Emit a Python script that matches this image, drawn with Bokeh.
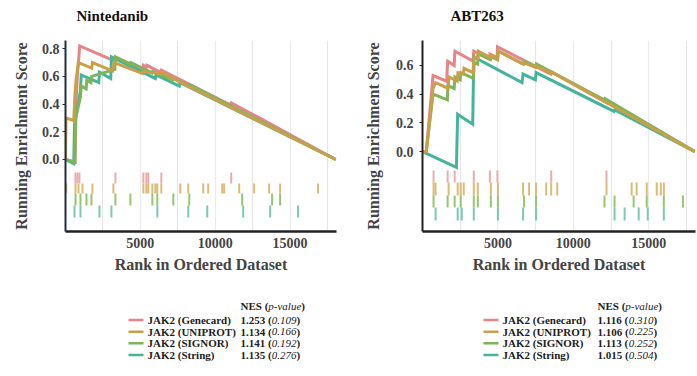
from bokeh.plotting import figure
from bokeh.models import Range1d, FixedTicker, PrintfTickFormatter
from bokeh.layouts import column, row
from bokeh.embed import file_html
from bokeh.resources import INLINE
from bokeh.core.properties import value

# ---------------- data ----------------
gene_sets = ["JAK2 (Genecard)", "JAK2 (UNIPROT)", "JAK2 (SIGNOR)", "JAK2 (String)"]
line_colors = ["#E58587", "#C9A04A", "#7EB55A", "#45B49A"]
rug_colors = ["#EBA3A3", "#D6B46A", "#8CC063", "#6CC3AA"]

x_ticks = [5000, 10000, 15000]
x_minor = [2500, 7500, 12500, 17500]
n_genes = 18100

# Nintedanib
nin_title = "Nintedanib"
nin_nes = ["1.253", "1.134", "1.141", "1.135"]
nin_pval = ["0.109", "0.166", "0.192", "0.276"]
nin_yticks = [0.0, 0.2, 0.4, 0.6, 0.8]

nin_genecard_x = [0, 640, 700, 800, 950, 3300, 3340, 5150, 5200, 5400, 5430, 6350, 6400, 11000, 11070, 18050]
nin_genecard_y = [0, -0.02, 0.40, 0.62, 0.82, 0.71, 0.74, 0.645, 0.68, 0.665, 0.68, 0.63, 0.645, 0.395, 0.41, 0.0]
nin_uniprot_x = [0, 30, 550, 620, 700, 870, 1750, 1800, 3150, 3250, 5150, 5200, 6400, 6450, 7700, 18050]
nin_uniprot_y = [0, 0.30, 0.28, 0.45, 0.57, 0.70, 0.66, 0.70, 0.64, 0.70, 0.62, 0.635, 0.62, 0.627, 0.556, 0.0]
nin_signor_x = [0, 620, 680, 1000, 1050, 1380, 1420, 1700, 1750, 3300, 3340, 4300, 4350, 5780, 5820, 7180, 7220, 8250, 8280, 18050]
nin_signor_y = [0, -0.02, 0.30, 0.45, 0.53, 0.51, 0.57, 0.555, 0.60, 0.65, 0.74, 0.69, 0.70, 0.625, 0.635, 0.575, 0.585, 0.53, 0.54, 0.0]
nin_string_x = [0, 550, 600, 1000, 1050, 2220, 2270, 3020, 3070, 6000, 6050, 7600, 7650, 18050]
nin_string_y = [0.0, -0.03, 0.25, 0.50, 0.61, 0.555, 0.63, 0.585, 0.74, 0.585, 0.61, 0.53, 0.555, 0.0]

nin_genecard_hits = [667, 800, 933, 3333, 5200, 5400, 5530, 6400, 11067]
nin_uniprot_hits = [50, 667, 867, 1133, 1800, 3200, 5200, 5400, 5530, 5800, 6000, 6130, 6400, 7667, 8200,
                    9200, 9533, 10467, 10600, 11600, 12600, 13600, 14333, 16867]
nin_signor_hits = [667, 1000, 1400, 1733, 3333, 4333, 5800, 6133, 7200, 8267, 11800, 13800, 14333]
nin_string_hits = [600, 1000, 2267, 3067, 6133, 8200, 9467, 11867, 13667, 15533]

# ABT263
abt_title = "ABT263"
abt_nes = ["1.116", "1.106", "1.113", "1.015"]
abt_pval = ["0.310", "0.225", "0.252", "0.504"]
abt_yticks = [0.0, 0.2, 0.4, 0.6]

abt_genecard_x = [0, 250, 700, 1600, 1670, 2100, 2150, 3350, 3400, 4450, 4470, 4950, 4970, 8500, 8550, 12200, 12250, 18050]
abt_genecard_y = [0, 0.0, 0.53, 0.49, 0.63, 0.60, 0.70, 0.63, 0.70, 0.645, 0.68, 0.655, 0.73, 0.54, 0.555, 0.34, 0.35, 0.0]
abt_uniprot_x = [0, 250, 700, 870, 1700, 1750, 2300, 2350, 2700, 2750, 3350, 3420, 3650, 3700, 4500, 4550, 4980, 5020,
                 6650, 6700, 7520, 7560, 8530, 8560, 18050]
abt_uniprot_y = [0, 0.0, 0.44, 0.48, 0.44, 0.52, 0.49, 0.55, 0.54, 0.58, 0.55, 0.66, 0.65, 0.70, 0.655, 0.67, 0.645, 0.70,
                 0.61, 0.62, 0.585, 0.595, 0.545, 0.555, 0.0]
abt_signor_x = [0, 250, 700, 1650, 1680, 2100, 2150, 2500, 2550, 3380, 3420, 3650, 3700, 4500, 4550, 4980, 5020,
                6700, 6750, 7500, 7550, 12050, 12100, 18050]
abt_signor_y = [0, 0.0, 0.40, 0.36, 0.46, 0.44, 0.52, 0.50, 0.55, 0.51, 0.62, 0.61, 0.68, 0.64, 0.66, 0.64, 0.70,
                0.61, 0.63, 0.59, 0.61, 0.36, 0.37, 0.0]
abt_string_x = [0, 2250, 2330, 3330, 3400, 6600, 6667, 7480, 7533, 12700, 12750, 18050]
abt_string_y = [0, -0.11, 0.26, 0.19, 0.66, 0.48, 0.54, 0.50, 0.55, 0.28, 0.29, 0.0]

abt_genecard_hits = [733, 1667, 2133, 3400, 4467, 4967, 8533, 12200]
abt_uniprot_hits = [733, 867, 1733, 2333, 2533, 2733, 3400, 3667, 4533, 5000, 6667, 7067, 7533, 8200, 8533,
                    8933, 12200, 13867, 14200, 14867, 15533, 15800, 16000]
abt_signor_hits = [733, 1667, 2133, 2533, 3400, 3667, 4533, 5000, 6733, 7533, 12067, 12733, 14000, 14867, 16000, 17267]
abt_string_hits = [867, 2333, 2600, 3400, 5000, 6667, 7533, 12733, 13400, 14333, 14933, 16000]

# ---------------- styling ----------------
SERIF = "Liberation Serif"
TITLE_H = 26
TOP_H = 264
FRAME_TOP = 14
FRAME_H = 191
LEG_H = 84
DRAW_ORDER = [0, 3, 2, 1]


def blank_fig(width, height):
    q = figure(width=width, height=height, x_range=Range1d(0, width), y_range=Range1d(height, 0),
               output_backend="svg", toolbar_location=None, min_border=0,
               x_axis_type=None, y_axis_type=None)
    q.outline_line_color = None
    q.grid.visible = False
    return q


def make_title(width, x, text):
    q = blank_fig(width, TITLE_H)
    q.text(x=[x], y=[15.5], text=[text], text_font=value(SERIF), text_font_style="bold",
           text_font_size="15px", text_baseline="middle", text_align="left", text_color="#111111")
    return q


def make_panel(curves_x, curves_y, hits, y_lo, y_hi, yticks, rug_rows, width,
               border_left, frame_w, tick_standoff, label_standoff, yaxis_color):
    p = figure(width=width, height=TOP_H, x_range=Range1d(0, n_genes), y_range=Range1d(y_lo, y_hi),
               output_backend="svg", toolbar_location=None,
               min_border_left=border_left, min_border_right=width - border_left - frame_w,
               min_border_top=FRAME_TOP, min_border_bottom=TOP_H - FRAME_TOP - FRAME_H)
    p.outline_line_color = None
    p.background_fill_color = "white"
    p.border_fill_color = "white"

    # grids
    p.ygrid.grid_line_color = None
    p.xgrid.ticker = FixedTicker(ticks=x_ticks, minor_ticks=x_minor)
    p.xgrid.grid_line_color = "#ebebeb"
    p.xgrid.grid_line_width = 1.2
    p.xgrid.minor_grid_line_color = "#e6e6e6"
    p.xgrid.minor_grid_line_width = 1.2

    # x axis
    xa = p.xaxis[0]
    xa.ticker = FixedTicker(ticks=x_ticks, minor_ticks=x_minor)
    xa.axis_label = "Rank in Ordered Dataset"
    xa.axis_label_text_font = SERIF
    xa.axis_label_text_font_style = "bold"
    xa.axis_label_text_font_size = "16px"
    xa.axis_label_standoff = 5
    xa.major_label_text_font = SERIF
    xa.major_label_text_font_style = "bold"
    xa.major_label_text_font_size = "14px"
    xa.major_label_standoff = 2
    xa.major_tick_out = 0
    xa.major_tick_in = 0
    xa.minor_tick_line_color = None
    xa.axis_line_width = 2.5
    xa.axis_line_color = "#222222"

    # y axis
    ya = p.yaxis[0]
    ya.ticker = FixedTicker(ticks=yticks)
    ya.formatter = PrintfTickFormatter(format="%.1f")
    ya.axis_label = "Running Enrichment Score"
    ya.axis_label_text_font = SERIF
    ya.axis_label_text_font_style = "bold"
    ya.axis_label_text_font_size = "16px"
    ya.axis_label_standoff = label_standoff
    ya.major_label_text_font = SERIF
    ya.major_label_text_font_style = "bold"
    ya.major_label_text_font_size = "14px"
    ya.major_label_standoff = tick_standoff
    ya.major_tick_out = 3
    ya.major_tick_in = 0
    ya.minor_tick_line_color = None
    ya.axis_line_width = 2
    ya.axis_line_color = yaxis_color
    ya.major_tick_line_color = yaxis_color

    # rug of hits
    for i in range(4):
        top, bot = rug_rows[i]
        p.segment(x0=hits[i], y0=[top] * len(hits[i]), x1=hits[i], y1=[bot] * len(hits[i]),
                  line_color=rug_colors[i], line_width=2, line_alpha=0.9)

    # running enrichment score curves
    for i in DRAW_ORDER:
        p.line(curves_x[i], curves_y[i], line_color=line_colors[i], line_width=3,
               line_join="miter")
    return p


# Times-like advance widths (em) for positioning mixed-style text pieces
ADV = {"0": .5, "1": .5, "2": .5, "3": .5, "4": .5, "5": .5, "6": .5, "7": .5, "8": .5, "9": .5,
       ".": .25, " ": .25, "(": .333, ")": .333, "N": .722, "E": .667, "S": .556,
       "p": .5, "-": .333, "v": .444, "a": .5, "l": .278, "u": .5, "e": .444}
LEG_FS = 11


def tw(s):
    return sum(ADV.get(c, .5) for c in s) * LEG_FS


def make_legend(width, sw0, sw1, lab_x, num_x, nes, pval):
    q = blank_fig(width, LEG_H)
    fs = f"{LEG_FS}px"
    rows_y = [29.5, 41.2, 52.8, 64.5]
    head_y = 15
    common = dict(text_font=value(SERIF), text_font_size=fs, text_baseline="middle",
                  text_align="left", text_color="#222222")
    # header "NES (p-value)"
    q.text(x=[num_x], y=[head_y], text=["NES ("], text_font_style="bold", **common)
    q.text(x=[num_x + tw("NES (")], y=[head_y], text=["p-value"], text_font_style="italic", **common)
    q.text(x=[num_x + tw("NES (") + tw("p-value")], y=[head_y], text=[")"], text_font_style="bold", **common)
    for i in range(4):
        y = rows_y[i]
        q.segment(x0=[sw0], y0=[y], x1=[sw1], y1=[y], line_color=line_colors[i], line_width=2.5)
        q.text(x=[lab_x], y=[y], text=[gene_sets[i]], text_font_style="bold", **common)
        a = nes[i] + " ("
        q.text(x=[num_x], y=[y], text=[a], text_font_style="bold", **common)
        q.text(x=[num_x + tw(a)], y=[y], text=[pval[i]], text_font_style="italic", **common)
        q.text(x=[num_x + tw(a) + tw(pval[i])], y=[y], text=[")"], text_font_style="bold", **common)
    return q


nin_rows = [(-0.094, -0.173), (-0.173, -0.245), (-0.245, -0.332), (-0.332, -0.419)]
abt_rows = [(-0.132, -0.216), (-0.216, -0.307), (-0.307, -0.39), (-0.39, -0.481)]

tL = make_title(343, 76, nin_title)
tR = make_title(354, 107, abt_title)

pL = make_panel([nin_genecard_x, nin_uniprot_x, nin_signor_x, nin_string_x],
                [nin_genecard_y, nin_uniprot_y, nin_signor_y, nin_string_y],
                [nin_genecard_hits, nin_uniprot_hits, nin_signor_hits, nin_string_hits],
                -0.52, 0.859, nin_yticks, nin_rows, 343, 65, 271, 3, 9, "#1f2d3d")
pR = make_panel([abt_genecard_x, abt_uniprot_x, abt_signor_x, abt_string_x],
                [abt_genecard_y, abt_uniprot_y, abt_signor_y, abt_string_y],
                [abt_genecard_hits, abt_uniprot_hits, abt_signor_hits, abt_string_hits],
                -0.557, 0.774, abt_yticks, abt_rows, 354, 79, 273, 6, 11, "#222222")

lL = make_legend(343, 128, 143, 147, 240, nin_nes, nin_pval)
lR = make_legend(354, 140, 155, 159, 254, abt_nes, abt_pval)

layout = column(row(tL, tR), row(pL, pR), row(lL, lR))
open("out.html", "w").write(file_html(layout, INLINE))
